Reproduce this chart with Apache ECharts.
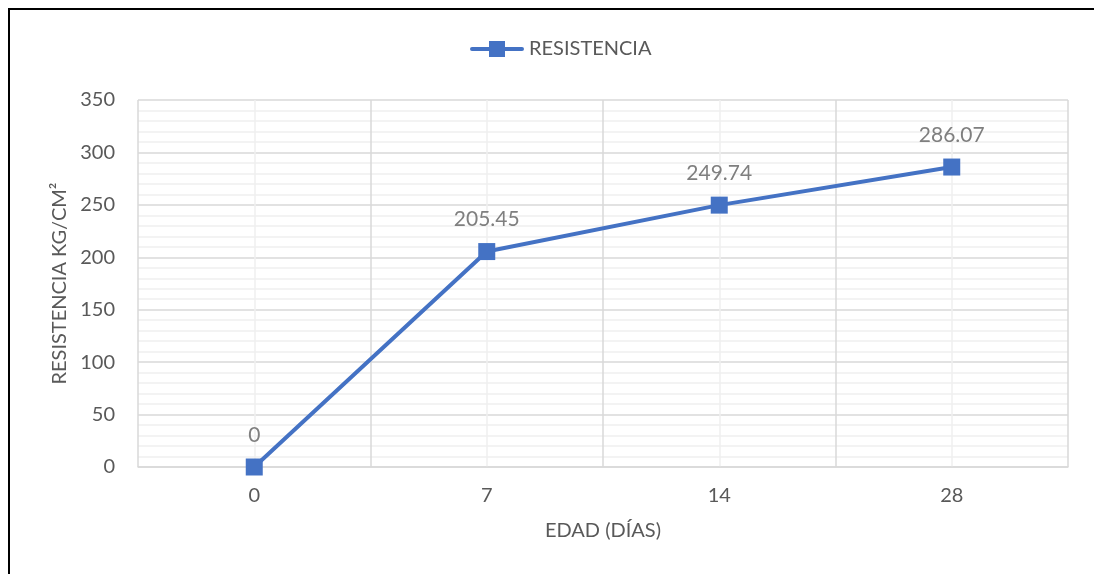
<!DOCTYPE html>
<html>
<head>
<meta charset="utf-8">
<script src="https://cdn.jsdelivr.net/npm/echarts@6/dist/echarts.min.js"></script>
<style>
  html, body { margin: 0; padding: 0; background: #fff; }
  #frame { position: absolute; left: 8px; top: 8px; width: 1200px; height: 700px;
           border-left: 2px solid #000; border-top: 2px solid #000; }
  #chart { position: absolute; left: 0; top: 0; width: 1094px; height: 574px; }
</style>
</head>
<body>
<div id="frame"></div>
<div id="chart"></div>
<script>
// Compressive strength by curing age
const ages = ['0', '7', '14', '28'];
const strength = [0, 205.45, 249.74, 286.07];
const seriesName = 'RESISTENCIA';
const xTitle = 'EDAD (DÍAS)';
const yTitle = 'RESISTENCIA KG/CM²';

const FONT = 'Lato, "Open Sans", sans-serif';
const BLUE = '#4472C4';
// legend glyph: line with a square marker in the middle
const LINE_MARK = 'path://M2,6L19,6L19,0L35,0L35,6L52,6A2,2 0 0 1 52,10L35,10L35,16L19,16L19,10L2,10A2,2 0 0 1 2,6Z';

const chart = echarts.init(document.getElementById('chart'));
chart.setOption({
  animation: false,
  textStyle: { fontFamily: FONT },
  legend: {
    top: 34, left: 465,
    itemWidth: 54, itemHeight: 16, itemGap: 6,
    textStyle: { color: '#595959', fontSize: 20, fontFamily: FONT },
    data: [{ name: seriesName, icon: LINE_MARK }]
  },
  grid: { left: 138, right: 26, top: 100, bottom: 107 },
  xAxis: [
    {
      type: 'category', data: ages, boundaryGap: true,
      name: xTitle, nameLocation: 'middle', nameGap: 54,
      nameTextStyle: { color: '#595959', fontSize: 20, fontFamily: FONT },
      axisLine: { show: true, lineStyle: { color: '#d9d9d9', width: 1.5 } },
      axisTick: { show: false },
      axisLabel: { color: '#595959', fontSize: 20, margin: 19, fontFamily: FONT },
      splitLine: { show: false }
    },
    {
      // background grid: boundaries (darker) and category centres (lighter)
      type: 'value', min: 0, max: 8, interval: 1, show: true,
      position: 'top',
      axisLine: { show: false }, axisTick: { show: false }, axisLabel: { show: false },
      splitLine: { show: true, lineStyle: { color: ['#d9d9d9', '#efefef'], width: 1.5 } }
    }
  ],
  yAxis: {
    type: 'value', min: 0, max: 350, interval: 50,
    name: yTitle, nameLocation: 'middle', nameGap: 68, nameRotate: 90,
    nameTextStyle: { color: '#595959', fontSize: 20, fontFamily: FONT },
    axisLine: { show: false }, axisTick: { show: false },
    axisLabel: { color: '#595959', fontSize: 20, margin: 23, fontFamily: FONT },
    splitLine: { show: true, lineStyle: { color: '#d9d9d9', width: 1.5 } },
    minorTick: { show: false, splitNumber: 5 },
    minorSplitLine: { show: true, lineStyle: { color: '#efefef', width: 1.5 } }
  },
  series: [{
    name: seriesName, type: 'line', xAxisIndex: 0,
    data: strength,
    symbol: 'rect', symbolSize: 17,
    lineStyle: { color: BLUE, width: 4 },
    itemStyle: { color: BLUE },
    label: {
      show: true, position: 'top', distance: 13,
      color: '#7f7f7f', fontSize: 21, fontFamily: FONT,
      formatter: p => String(p.value)
    },
    z: 5
  }]
});
</script>
</body>
</html>
